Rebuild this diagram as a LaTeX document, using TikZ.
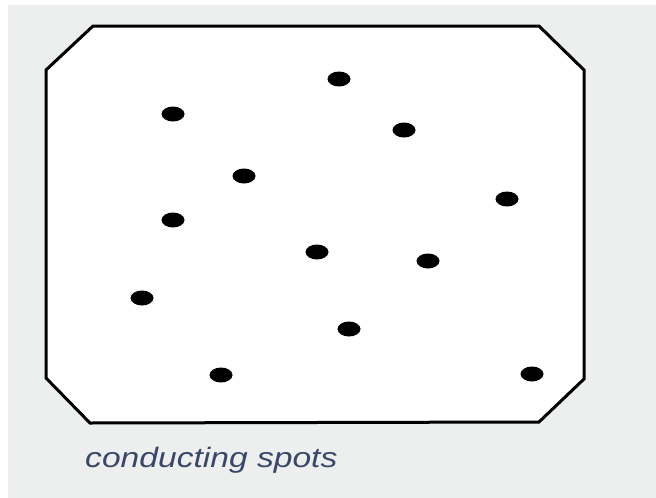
\documentclass[tikz,border=0pt]{standalone}
\usepackage{fontspec}
\usetikzlibrary{shapes.geometric}
\setmainfont{Liberation Sans}
\definecolor{bggray}{HTML}{EDEFEF}
\definecolor{labelcol}{HTML}{3A4768}
\begin{document}
\begin{tikzpicture}[x=1pt,y=-1pt,
  spot/.style={ellipse, fill=black, minimum width=23pt, minimum height=15pt, inner sep=0pt},
  board/.style={draw=black, fill=white, line width=3pt, line join=miter}]
\useasboundingbox (0,0) rectangle (656,498);
\fill[white] (0,0) rectangle (656,498);
\fill[bggray] (8,5) rectangle (656,498);
\draw[board] (93,26) -- (539,26) -- (584,70) -- (584,379) -- (539,422) -- (90,423) -- (46,378) -- (46,70) -- cycle;
\node[spot] (s1) at (339,79) {};
\node[spot] (s2) at (173,114) {};
\node[spot] (s3) at (404,130) {};
\node[spot] (s4) at (244,176) {};
\node[spot] (s5) at (507,199) {};
\node[spot] (s6) at (173,220) {};
\node[spot] (s7) at (317,252) {};
\node[spot] (s8) at (428,261) {};
\node[spot] (s9) at (142,298) {};
\node[spot] (s10) at (349,329) {};
\node[spot] (s11) at (221,375) {};
\node[spot] (s12) at (532,374) {};
\node[anchor=base west, inner sep=0pt, xscale=1.2, text=labelcol, font=\fontsize{28}{30}\selectfont\itshape] (lbl) at (85,467) {conducting spots};
\end{tikzpicture}
\end{document}
